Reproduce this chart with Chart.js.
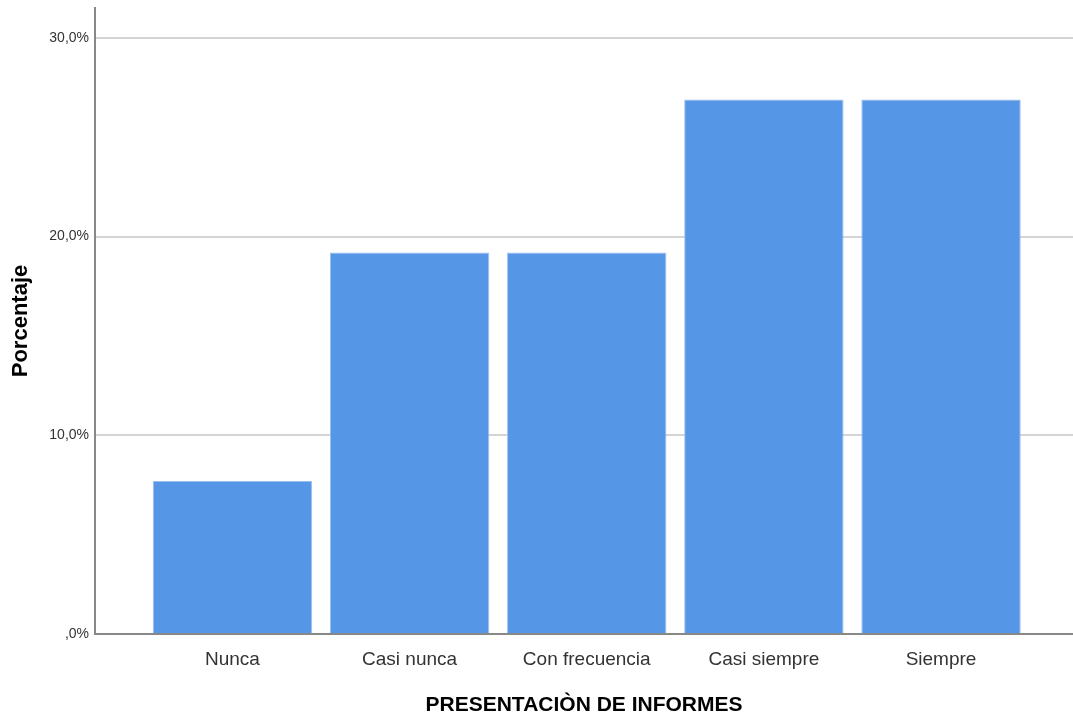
<!DOCTYPE html>
<html><head><meta charset="utf-8">
<script src="https://cdn.jsdelivr.net/npm/chart.js@4/dist/chart.umd.min.js"></script>
<style>html,body{margin:0;padding:0;background:#fff}#wrap{width:1073px;height:718px}</style>
</head><body><div id="wrap"><canvas id="c" width="1073" height="718"></canvas></div>
<script>
const categories = ["Nunca", "Casi nunca", "Con frecuencia", "Casi siempre", "Siempre"];
const percentages = [7.7, 19.2, 19.2, 26.9, 26.9];
const yTicks = [0, 10, 20, 30];
const xTitle = "PRESENTACIÒN DE INFORMES";
const yTitle = "Porcentaje";

const fam = "'Liberation Sans', Arial, sans-serif";
new Chart(document.getElementById('c'), {
  type: 'bar',
  data: {
    datasets: [{
      data: categories.map((c, i) => ({x: i, y: percentages[i]})),
      backgroundColor: '#5596E6',
      borderColor: '#9cc0ee',
      borderWidth: 1,
      borderSkipped: 'bottom',
      barPercentage: 0.9,
      categoryPercentage: 1.0
    }]
  },
  options: {
    responsive: false,
    animation: false,
    devicePixelRatio: 1,
    layout: {padding: {top: 8, right: 0, left: 0, bottom: 0}},
    plugins: {legend: {display: false}, tooltip: {enabled: false}},
    scales: {
      x: {
        type: 'linear',
        offset: false,
        min: -0.776,
        max: 4.745,
        afterBuildTicks: s => { s.ticks = categories.map((c, i) => ({value: i})); },
        afterFit: s => { s.height = 84; s.paddingLeft = 0; s.paddingRight = 0; },
        grid: {display: false, drawTicks: false},
        border: {color: '#888888', width: 2},
        ticks: {
          callback: v => categories[v],
          color: '#333333',
          font: {family: fam, size: 19},
          padding: 14,
          maxRotation: 0,
          autoSkip: false
        },
        title: {display: true, text: xTitle, color: '#000', font: {family: fam, size: 21, weight: 'bold'}, padding: {top: 14, bottom: 0}}
      },
      y: {
        min: 0,
        max: 31.5,
        afterBuildTicks: s => { s.ticks = yTicks.map(v => ({value: v})); },
        afterFit: s => { s.width = 95; s.paddingTop = 0; s.paddingBottom = 0; },
        grid: {color: '#d4d4d4', lineWidth: 2, drawTicks: false},
        border: {color: '#888888', width: 2},
        ticks: {
          callback: v => (v === 0 ? '' : String(v)) + ',0%',
          color: '#333333',
          font: {family: fam, size: 14},
          padding: 6
        },
        title: {display: true, text: yTitle, color: '#000', font: {family: fam, size: 22, weight: 'bold'}, padding: {top: 8, bottom: 0}}
      }
    }
  }
});
</script></body></html>
